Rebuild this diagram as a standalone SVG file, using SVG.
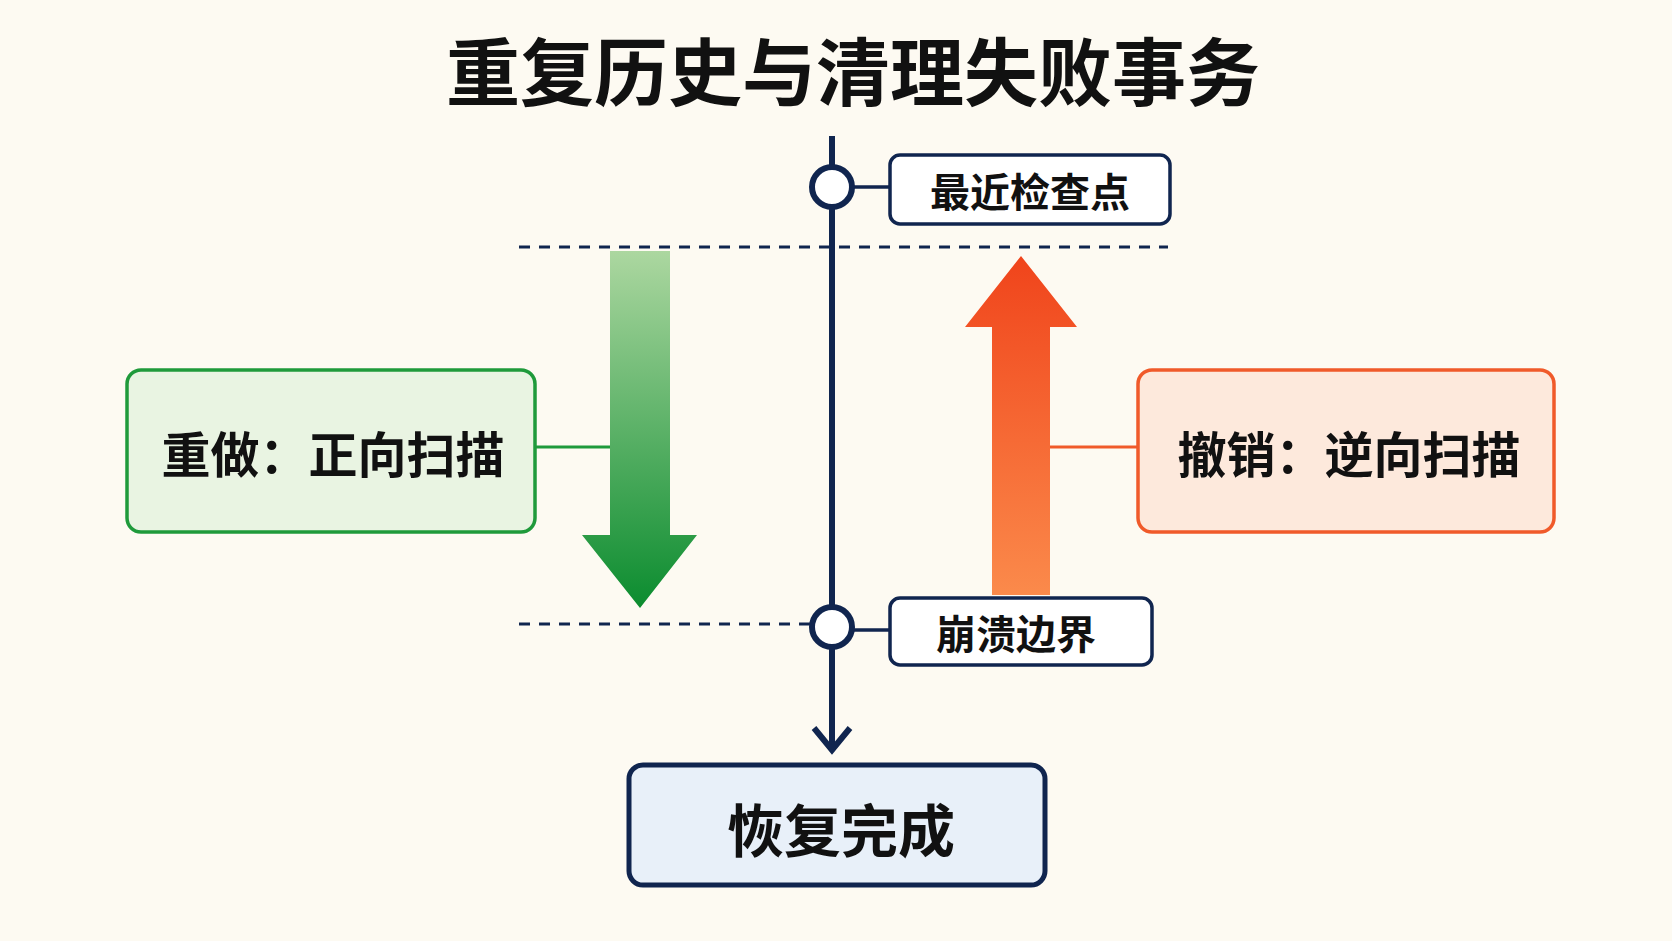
<svg xmlns="http://www.w3.org/2000/svg" width="1672" height="941" viewBox="0 0 1672 941">
<style>
text{font-family:"Noto Sans CJK SC","Noto Sans",sans-serif;font-weight:700;fill:#111;text-anchor:middle;dominant-baseline:central}
.lbl{fill:#fff;stroke:#10254f;stroke-width:3.5}
.dash{stroke:#10254f;stroke-width:3;stroke-dasharray:11 9;fill:none}
</style>
<defs>
<linearGradient id="g" x1="0" y1="0" x2="0" y2="1"><stop offset="0" stop-color="#acd7a0"/><stop offset="1" stop-color="#0b8c2f"/></linearGradient>
<linearGradient id="o" x1="0" y1="0" x2="0" y2="1"><stop offset="0" stop-color="#f0441b"/><stop offset="1" stop-color="#fb8a4b"/></linearGradient>
</defs>
<rect width="1672" height="941" fill="#fdfaf2"/>
<text x="853" y="67" font-size="74">重复历史与清理失败事务</text>
<g id="connectors">
<line class="dash" x1="519" y1="247" x2="1168" y2="247"/>
<line class="dash" x1="519" y1="624" x2="810" y2="624"/>
<line x1="832" y1="136" x2="832" y2="750" stroke="#10254f" stroke-width="6"/>
<polyline points="814,728 832,750 850,728" fill="none" stroke="#10254f" stroke-width="6"/>
<line x1="852" y1="187" x2="890" y2="187" stroke="#10254f" stroke-width="3.5"/>
<line x1="852" y1="630" x2="890" y2="630" stroke="#10254f" stroke-width="3.5"/>
<line x1="535" y1="447" x2="610" y2="447" stroke="#1f9a3b" stroke-width="3"/>
<line x1="1050" y1="447" x2="1138" y2="447" stroke="#f05a2a" stroke-width="3"/>
</g>
<g id="redo-arrow"><polygon points="610,251 670,251 670,535 697,535 640,608 582,535 610,535" fill="url(#g)"/></g>
<g id="undo-arrow"><polygon points="992,595 1050,595 1050,327 1077,327 1021,256 965,327 992,327" fill="url(#o)"/></g>
<g id="c1"><circle cx="832" cy="187" r="20" fill="#fff" stroke="#10254f" stroke-width="6"/></g>
<g id="c2"><circle cx="832" cy="627" r="20" fill="#fff" stroke="#10254f" stroke-width="6"/></g>
<g id="checkpoint"><rect class="lbl" x="890" y="155" width="280" height="69" rx="10"/><text x="1030" y="190" font-size="40">最近检查点</text></g>
<g id="crash"><rect class="lbl" x="890" y="598" width="262" height="67" rx="10"/><text x="1016" y="632" font-size="40">崩溃边界</text></g>
<g id="redo"><rect x="127" y="370" width="408" height="162" rx="14" fill="#e9f4e2" stroke="#1f9a3b" stroke-width="3.5"/><text x="333" y="451" font-size="49">重做：正向扫描</text></g>
<g id="undo"><rect x="1138" y="370" width="416" height="162" rx="14" fill="#fde9dc" stroke="#f05a2a" stroke-width="3.5"/><text x="1349" y="451" font-size="49">撤销：逆向扫描</text></g>
<g id="done"><rect x="629" y="765" width="416" height="120" rx="14" fill="#e8f0f9" stroke="#10254f" stroke-width="5"/><text x="841" y="827" font-size="57">恢复完成</text></g>
</svg>
